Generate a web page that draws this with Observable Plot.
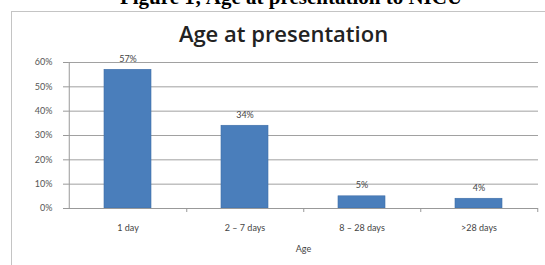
<!DOCTYPE html>
<html><head><meta charset="utf-8">
<script src="https://cdn.jsdelivr.net/npm/d3@7"></script>
<script src="https://cdn.jsdelivr.net/npm/@observablehq/plot@0.6"></script>
<style>
body{margin:0;background:#fff;}
#wrap{position:relative;width:545px;height:265px;overflow:hidden;background:#fff;}
#frame{position:absolute;left:11px;top:11px;width:600px;height:300px;border:1px solid #c4c4c4;box-sizing:border-box;}
#cap{position:absolute;left:0;width:582px;top:-15px;line-height:24px;text-align:center;font:bold 21px "Liberation Serif","DejaVu Serif",serif;color:#000;white-space:nowrap;}
#chart{position:absolute;left:0;top:0;}
</style></head>
<body><div id="wrap"><div id="frame"></div><div id="cap">Figure 1; Age at presentation to NICU</div><div id="chart"></div></div>
<script>
const categories = ["1 day", "2 – 7 days", "8 – 28 days", ">28 days"];
const values = [0.57, 0.34, 0.05, 0.04];
const valueLabels = ["57%", "34%", "5%", "4%"];
const yTicks = [0, 0.1, 0.2, 0.3, 0.4, 0.5, 0.6];
const chartTitle = "Age at presentation";
const xTitle = "Age";

const data = categories.map((c, i) => ({cat: c, v: values[i], label: valueLabels[i]}));
const W = 545, mL = 68, mR = 7;
const band = (W - mL - mR) / categories.length;
const font = "Lato, 'Open Sans', sans-serif";

const plot = Plot.plot({
  width: W, height: 265,
  marginLeft: mL, marginRight: mR, marginTop: 62, marginBottom: 57,
  style: {fontFamily: font, background: "transparent", overflow: "visible"},
  x: {domain: categories, paddingInner: 0.6, paddingOuter: 0.3, align: 0.5},
  y: {domain: [0, 0.6]},
  marks: [
    Plot.gridY(yTicks, {stroke: "#8a8a8a", strokeOpacity: 0.8, strokeWidth: 1}),
    Plot.axisY(yTicks, {tickFormat: d3.format(".0%"), tickSize: 5, tickPadding: 11, fontSize: 9, fill: "#555", stroke: "#999", label: null}),
    Plot.ruleX([categories[0]], {dx: -band / 2, stroke: "#999"}),
    Plot.barY(data, {x: "cat", y: "v", fill: "#4a7ebb", stroke: "#3e6ea8", strokeWidth: 0.6}),
    Plot.ruleY([0], {stroke: "#999"}),
    Plot.axisX({tickSize: 4, dx: band / 2, tickFormat: () => "", stroke: "#999", label: null}),
    Plot.axisX({tickSize: 0, tickPadding: 16, fontSize: 9, fill: "#444", label: null}),
    Plot.text(data, {x: "cat", y: "v", text: "label", dy: -11, fontSize: 9, fill: "#444"}),
    Plot.text([chartTitle], {frameAnchor: "top", dx: -20, dy: -36, fontSize: 22, fontWeight: 600, fontFamily: "'Open Sans', sans-serif", fill: "#222"}),
    Plot.text([xTitle], {frameAnchor: "bottom", dy: 43, fontSize: 9, fill: "#444"})
  ]
});
document.getElementById("chart").appendChild(plot);
</script>
</body></html>
